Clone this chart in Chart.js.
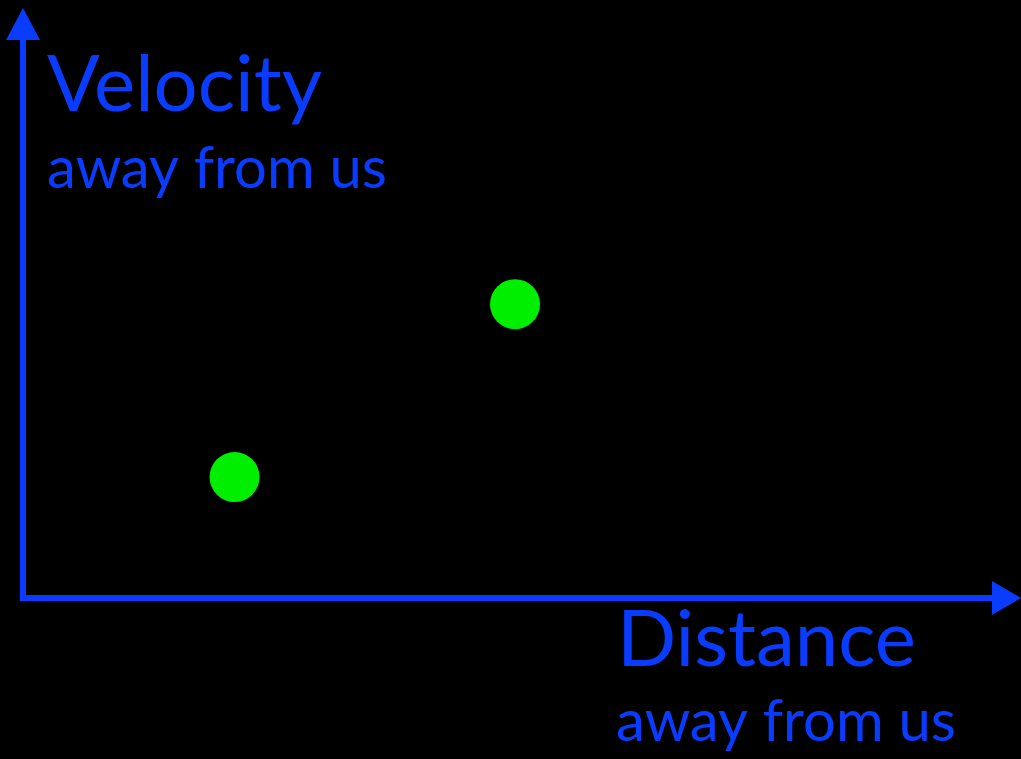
<!DOCTYPE html>
<html>
<head>
<meta charset="utf-8">
<script src="https://cdn.jsdelivr.net/npm/chart.js@4"></script>
<style>
html,body{margin:0;padding:0;background:#000;}
#wrap{width:1021px;height:759px;position:relative;}
</style>
</head>
<body>
<div id="wrap"><canvas id="c" width="1021" height="759"></canvas></div>
<script>
const distance = [21.2, 49.3];
const velocity = [20.5, 49.8];
const yTitle = ["Velocity", "away from us"];
const xTitle = ["Distance", "away from us"];

const BLUE = "#0a3cff";
const GREEN = "#00ee00";

const axesPlugin = {
  id: "arrowAxes",
  beforeDatasetsDraw(chart) {
    const ctx = chart.ctx;
    const xs = chart.scales.x, ys = chart.scales.y;
    const x0 = xs.getPixelForValue(xs.min);
    const y0 = ys.getPixelForValue(ys.min);
    const xEnd = xs.getPixelForValue(xs.max);
    const yEnd = ys.getPixelForValue(ys.max);
    ctx.save();
    ctx.strokeStyle = BLUE;
    ctx.fillStyle = BLUE;
    ctx.lineWidth = 6;
    ctx.lineCap = "square";
    ctx.beginPath();
    ctx.moveTo(x0, yEnd + 30);
    ctx.lineTo(x0, y0);
    ctx.lineTo(xEnd - 28, y0);
    ctx.stroke();
    // vertical arrowhead
    ctx.beginPath();
    ctx.moveTo(x0, yEnd);
    ctx.lineTo(x0 - 17, yEnd + 32);
    ctx.lineTo(x0 + 17, yEnd + 32);
    ctx.closePath();
    ctx.fill();
    // horizontal arrowhead
    ctx.beginPath();
    ctx.moveTo(xEnd, y0);
    ctx.lineTo(xEnd - 29, y0 - 17);
    ctx.lineTo(xEnd - 29, y0 + 17);
    ctx.closePath();
    ctx.fill();
    // titles
    ctx.textBaseline = "alphabetic";
    ctx.textAlign = "left";
    ctx.font = "78px Lato";
    ctx.fillText(yTitle[0], x0 + 24, 111);
    ctx.font = "58px Lato";
    ctx.fillText(yTitle[1], x0 + 24, 188);
    ctx.font = "78px Lato";
    ctx.fillText(xTitle[0], 617, 666);
    ctx.font = "58px Lato";
    ctx.fillText(xTitle[1], 616, 741);
    ctx.restore();
  }
};

new Chart(document.getElementById("c"), {
  type: "scatter",
  data: {
    datasets: [{
      data: distance.map((d, i) => ({x: d, y: velocity[i]})),
      backgroundColor: GREEN,
      borderColor: GREEN,
      borderWidth: 0,
      pointRadius: 25,
      pointHoverRadius: 25
    }]
  },
  options: {
    responsive: false,
    animation: false,
    events: [],
    layout: {autoPadding: false, padding: {left: 23, top: 8, right: 0, bottom: 161}},
    plugins: {legend: {display: false}, tooltip: {enabled: false}},
    scales: {
      x: {display: false, min: 0, max: 100},
      y: {display: false, min: 0, max: 100}
    }
  },
  plugins: [axesPlugin]
});
</script>
</body>
</html>
